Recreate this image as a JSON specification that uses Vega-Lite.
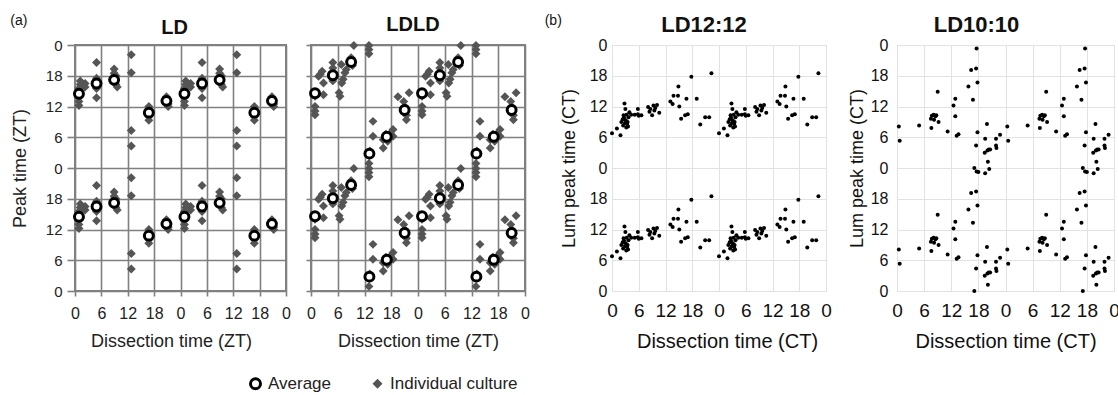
{
"$schema": "https://vega.github.io/schema/vega-lite/v6.json",
"padding": {"left": 10, "top": 13, "right": 0, "bottom": 0},
"background": "white",
"config": {
  "font": "Liberation Sans",
  "view": {"stroke": null},
  "title": {"fontWeight": "bold", "color": "#111", "font": "Liberation Sans"},
  "axis": {"labelFont": "Liberation Sans", "titleFont": "Liberation Sans", "titleFontWeight": "normal", "labelOverlap": false, "labelBound": false, "labelFlush": false},
  "legend": {"orient": "none", "legendX": 172, "legendY": 330, "direction": "horizontal", "labelFontSize": 17, "labelColor": "#222", "symbolSize": 100, "symbolStrokeWidth": 3, "columnPadding": 34, "labelOffset": 4, "title": null}
},
"datasets": {
"a1": [
{"type":"Individual culture","t":0.9,"p":12.2,"t2":24.9,"p2":36.2},
{"type":"Individual culture","t":0.9,"p":13.0,"t2":24.9,"p2":37.0},
{"type":"Individual culture","t":0.9,"p":13.8,"t2":24.9,"p2":37.8},
{"type":"Individual culture","t":0.9,"p":15.5,"t2":24.9,"p2":39.5},
{"type":"Individual culture","t":1.2,"p":16.3,"t2":25.2,"p2":40.3},
{"type":"Individual culture","t":1.2,"p":17.0,"t2":25.2,"p2":41.0},
{"type":"Individual culture","t":2.3,"p":16.5,"t2":26.3,"p2":40.5},
{"type":"Individual culture","t":2.3,"p":15.8,"t2":26.3,"p2":39.8},
{"type":"Individual culture","t":4.9,"p":20.6,"t2":28.9,"p2":44.6},
{"type":"Individual culture","t":4.9,"p":17.5,"t2":28.9,"p2":41.5},
{"type":"Individual culture","t":4.9,"p":15.5,"t2":28.9,"p2":39.5},
{"type":"Individual culture","t":4.9,"p":13.7,"t2":28.9,"p2":37.7},
{"type":"Individual culture","t":4.9,"p":16.9,"t2":28.9,"p2":40.9},
{"type":"Individual culture","t":8.9,"p":19.3,"t2":32.9,"p2":43.3},
{"type":"Individual culture","t":8.9,"p":18.5,"t2":32.9,"p2":42.5},
{"type":"Individual culture","t":9.3,"p":18.0,"t2":33.3,"p2":42.0},
{"type":"Individual culture","t":9.3,"p":16.3,"t2":33.3,"p2":40.3},
{"type":"Individual culture","t":9.6,"p":15.8,"t2":33.6,"p2":39.8},
{"type":"Individual culture","t":8.9,"p":16.8,"t2":32.9,"p2":40.8},
{"type":"Individual culture","t":12.8,"p":22.1,"t2":36.8,"p2":46.1},
{"type":"Individual culture","t":12.8,"p":18.6,"t2":36.8,"p2":42.6},
{"type":"Individual culture","t":12.8,"p":7.3,"t2":36.8,"p2":31.3},
{"type":"Individual culture","t":12.8,"p":4.3,"t2":36.8,"p2":28.3},
{"type":"Individual culture","t":16.8,"p":12.0,"t2":40.8,"p2":36.0},
{"type":"Individual culture","t":16.8,"p":11.3,"t2":40.8,"p2":35.3},
{"type":"Individual culture","t":16.8,"p":10.0,"t2":40.8,"p2":34.0},
{"type":"Individual culture","t":16.8,"p":9.3,"t2":40.8,"p2":33.3},
{"type":"Individual culture","t":20.8,"p":13.9,"t2":44.8,"p2":37.9},
{"type":"Individual culture","t":20.8,"p":13.3,"t2":44.8,"p2":37.3},
{"type":"Individual culture","t":21.2,"p":12.5,"t2":45.2,"p2":36.5},
{"type":"Individual culture","t":21.2,"p":12.0,"t2":45.2,"p2":36.0},
{"type":"Average","t":0.9,"p":14.5,"t2":24.9,"p2":38.5},
{"type":"Average","t":4.9,"p":16.5,"t2":28.9,"p2":40.5},
{"type":"Average","t":8.9,"p":17.2,"t2":32.9,"p2":41.2},
{"type":"Average","t":16.8,"p":10.8,"t2":40.8,"p2":34.8},
{"type":"Average","t":20.8,"p":13.1,"t2":44.8,"p2":37.1}
],
"a2": [
{"type":"Individual culture","t":0.9,"p":12.0,"t2":24.9,"p2":36.0},
{"type":"Individual culture","t":0.9,"p":11.1,"t2":24.9,"p2":35.1},
{"type":"Individual culture","t":0.9,"p":10.4,"t2":24.9,"p2":34.4},
{"type":"Individual culture","t":0.9,"p":14.0,"t2":24.9,"p2":38.0},
{"type":"Individual culture","t":1.7,"p":17.9,"t2":25.7,"p2":41.9},
{"type":"Individual culture","t":2.1,"p":18.3,"t2":26.1,"p2":42.3},
{"type":"Individual culture","t":2.5,"p":18.9,"t2":26.5,"p2":42.9},
{"type":"Individual culture","t":2.8,"p":16.6,"t2":26.8,"p2":40.6},
{"type":"Individual culture","t":2.8,"p":14.3,"t2":26.8,"p2":38.3},
{"type":"Individual culture","t":4.9,"p":20.6,"t2":28.9,"p2":44.6},
{"type":"Individual culture","t":4.9,"p":19.5,"t2":28.9,"p2":43.5},
{"type":"Individual culture","t":4.9,"p":17.0,"t2":28.9,"p2":41.0},
{"type":"Individual culture","t":6.3,"p":14.7,"t2":30.3,"p2":38.7},
{"type":"Individual culture","t":6.5,"p":14.0,"t2":30.5,"p2":38.0},
{"type":"Individual culture","t":6.9,"p":16.6,"t2":30.9,"p2":40.6},
{"type":"Individual culture","t":7.2,"p":17.3,"t2":31.2,"p2":41.3},
{"type":"Individual culture","t":7.6,"p":18.6,"t2":31.6,"p2":42.6},
{"type":"Individual culture","t":7.9,"p":19.2,"t2":31.9,"p2":43.2},
{"type":"Individual culture","t":6.8,"p":20.2,"t2":30.8,"p2":44.2},
{"type":"Individual culture","t":9.6,"p":23.9,"t2":33.6,"p2":47.9},
{"type":"Individual culture","t":9.0,"p":21.5,"t2":33.0,"p2":45.5},
{"type":"Individual culture","t":9.3,"p":20.0,"t2":33.3,"p2":44.0},
{"type":"Individual culture","t":13.0,"p":23.9,"t2":37.0,"p2":47.9},
{"type":"Individual culture","t":13.0,"p":23.1,"t2":37.0,"p2":47.1},
{"type":"Individual culture","t":13.0,"p":22.3,"t2":37.0,"p2":46.3},
{"type":"Individual culture","t":13.0,"p":0.9,"t2":37.0,"p2":24.9},
{"type":"Individual culture","t":13.2,"p":2.5,"t2":37.2,"p2":26.5},
{"type":"Individual culture","t":13.2,"p":3.3,"t2":37.2,"p2":27.3},
{"type":"Individual culture","t":13.9,"p":9.1,"t2":37.9,"p2":33.1},
{"type":"Individual culture","t":13.9,"p":6.2,"t2":37.9,"p2":30.2},
{"type":"Individual culture","t":16.2,"p":5.5,"t2":40.2,"p2":29.5},
{"type":"Individual culture","t":16.2,"p":3.9,"t2":40.2,"p2":27.9},
{"type":"Individual culture","t":17.2,"p":5.2,"t2":41.2,"p2":29.2},
{"type":"Individual culture","t":17.8,"p":6.8,"t2":41.8,"p2":30.8},
{"type":"Individual culture","t":18.4,"p":7.5,"t2":42.4,"p2":31.5},
{"type":"Individual culture","t":18.4,"p":6.2,"t2":42.4,"p2":30.2},
{"type":"Individual culture","t":16.8,"p":6.6,"t2":40.8,"p2":30.6},
{"type":"Individual culture","t":19.5,"p":13.9,"t2":43.5,"p2":37.9},
{"type":"Individual culture","t":22.0,"p":14.7,"t2":46.0,"p2":38.7},
{"type":"Individual culture","t":21.4,"p":9.4,"t2":45.4,"p2":33.4},
{"type":"Individual culture","t":21.0,"p":12.0,"t2":45.0,"p2":36.0},
{"type":"Individual culture","t":21.4,"p":10.3,"t2":45.4,"p2":34.3},
{"type":"Individual culture","t":20.8,"p":13.0,"t2":44.8,"p2":37.0},
{"type":"Average","t":0.9,"p":14.6,"t2":24.9,"p2":38.6},
{"type":"Average","t":4.9,"p":18.1,"t2":28.9,"p2":42.1},
{"type":"Average","t":9.0,"p":20.7,"t2":33.0,"p2":44.7},
{"type":"Average","t":13.1,"p":2.8,"t2":37.1,"p2":26.8},
{"type":"Average","t":17.0,"p":6.1,"t2":41.0,"p2":30.1},
{"type":"Average","t":21.0,"p":11.3,"t2":45.0,"p2":35.3}
],
"b1": [
{"t":0.0,"p":6.8,"t2":24.0,"p2":30.8},
{"t":1.1,"p":7.7,"t2":25.1,"p2":31.7},
{"t":1.9,"p":6.4,"t2":25.9,"p2":30.4},
{"t":2.1,"p":9.0,"t2":26.1,"p2":33.0},
{"t":2.4,"p":9.5,"t2":26.4,"p2":33.5},
{"t":2.8,"p":12.6,"t2":26.8,"p2":36.6},
{"t":2.6,"p":10.3,"t2":26.6,"p2":34.3},
{"t":3.0,"p":11.5,"t2":27.0,"p2":35.5},
{"t":3.1,"p":9.3,"t2":27.1,"p2":33.3},
{"t":3.4,"p":8.6,"t2":27.4,"p2":32.6},
{"t":3.6,"p":8.1,"t2":27.6,"p2":32.1},
{"t":3.7,"p":9.9,"t2":27.7,"p2":33.9},
{"t":3.9,"p":10.9,"t2":27.9,"p2":34.9},
{"t":4.3,"p":10.4,"t2":28.3,"p2":34.4},
{"t":5.1,"p":10.4,"t2":29.1,"p2":34.4},
{"t":5.8,"p":11.5,"t2":29.8,"p2":35.5},
{"t":5.8,"p":10.5,"t2":29.8,"p2":34.5},
{"t":6.6,"p":10.3,"t2":30.6,"p2":34.3},
{"t":8.1,"p":11.9,"t2":32.1,"p2":35.9},
{"t":8.6,"p":11.5,"t2":32.6,"p2":35.5},
{"t":9.0,"p":10.3,"t2":33.0,"p2":34.3},
{"t":9.3,"p":12.2,"t2":33.3,"p2":36.2},
{"t":9.7,"p":11.7,"t2":33.7,"p2":35.7},
{"t":10.1,"p":12.3,"t2":34.1,"p2":36.3},
{"t":10.6,"p":10.8,"t2":34.6,"p2":34.8},
{"t":13.1,"p":13.0,"t2":37.1,"p2":37.0},
{"t":13.6,"p":12.5,"t2":37.6,"p2":36.5},
{"t":13.8,"p":14.1,"t2":37.8,"p2":38.1},
{"t":14.9,"p":15.9,"t2":38.9,"p2":39.9},
{"t":14.8,"p":14.1,"t2":38.8,"p2":38.1},
{"t":15.1,"p":12.0,"t2":39.1,"p2":36.0},
{"t":15.5,"p":9.6,"t2":39.5,"p2":33.6},
{"t":16.4,"p":10.3,"t2":40.4,"p2":34.3},
{"t":17.0,"p":10.5,"t2":41.0,"p2":34.5},
{"t":16.7,"p":13.5,"t2":40.7,"p2":37.5},
{"t":17.8,"p":17.8,"t2":41.8,"p2":41.8},
{"t":19.0,"p":13.5,"t2":43.0,"p2":37.5},
{"t":19.8,"p":8.5,"t2":43.8,"p2":32.5},
{"t":20.9,"p":9.9,"t2":44.9,"p2":33.9},
{"t":21.8,"p":9.9,"t2":45.8,"p2":33.9},
{"t":22.3,"p":18.5,"t2":46.3,"p2":42.5},
{"t":2.5,"p":8.3,"t2":26.5,"p2":32.3},
{"t":2.9,"p":8.8,"t2":26.9,"p2":32.8},
{"t":3.2,"p":7.9,"t2":27.2,"p2":31.9},
{"t":2.7,"p":9.8,"t2":26.7,"p2":33.8},
{"t":3.3,"p":10.4,"t2":27.3,"p2":34.4},
{"t":3.5,"p":9.0,"t2":27.5,"p2":33.0},
{"t":9.5,"p":11.2,"t2":33.5,"p2":35.2},
{"t":8.4,"p":11.0,"t2":32.4,"p2":35.0},
{"t":6.0,"p":10.2,"t2":30.0,"p2":34.2}
],
"b2": [
{"t":0.4,"p":8.1,"t2":24.4,"p2":32.1},
{"t":0.6,"p":5.3,"t2":24.6,"p2":29.3},
{"t":4.9,"p":8.3,"t2":28.9,"p2":32.3},
{"t":7.6,"p":7.8,"t2":31.6,"p2":31.8},
{"t":7.5,"p":9.6,"t2":31.5,"p2":33.6},
{"t":7.7,"p":10.2,"t2":31.7,"p2":34.2},
{"t":8.1,"p":10.4,"t2":32.1,"p2":34.4},
{"t":8.5,"p":10.1,"t2":32.5,"p2":34.1},
{"t":8.7,"p":10.3,"t2":32.7,"p2":34.3},
{"t":8.2,"p":9.4,"t2":32.2,"p2":33.4},
{"t":9.2,"p":9.0,"t2":33.2,"p2":33.0},
{"t":9.0,"p":14.9,"t2":33.0,"p2":38.9},
{"t":11.2,"p":7.1,"t2":35.2,"p2":31.1},
{"t":12.5,"p":12.2,"t2":36.5,"p2":36.2},
{"t":12.9,"p":13.5,"t2":36.9,"p2":37.5},
{"t":12.9,"p":10.1,"t2":36.9,"p2":34.1},
{"t":13.2,"p":6.3,"t2":37.2,"p2":30.3},
{"t":13.6,"p":6.6,"t2":37.6,"p2":30.6},
{"t":15.8,"p":15.9,"t2":39.8,"p2":39.9},
{"t":16.4,"p":19.1,"t2":40.4,"p2":43.1},
{"t":17.5,"p":19.4,"t2":41.5,"p2":43.4},
{"t":16.8,"p":13.3,"t2":40.8,"p2":37.3},
{"t":17.8,"p":16.7,"t2":41.8,"p2":40.7},
{"t":17.6,"p":23.3,"t2":41.6,"p2":47.3},
{"t":18.0,"p":-0.8,"t2":42.0,"p2":23.2},
{"t":19.5,"p":-1.0,"t2":43.5,"p2":23.0},
{"t":20.4,"p":-0.2,"t2":44.4,"p2":23.8},
{"t":17.1,"p":0.0,"t2":41.1,"p2":24.0},
{"t":20.1,"p":1.2,"t2":44.1,"p2":25.2},
{"t":17.8,"p":7.0,"t2":41.8,"p2":31.0},
{"t":17.5,"p":4.4,"t2":41.5,"p2":28.4},
{"t":19.9,"p":8.6,"t2":43.9,"p2":32.6},
{"t":19.5,"p":5.7,"t2":43.5,"p2":29.7},
{"t":19.4,"p":3.0,"t2":43.4,"p2":27.0},
{"t":20.3,"p":3.6,"t2":44.3,"p2":27.6},
{"t":20.6,"p":3.6,"t2":44.6,"p2":27.6},
{"t":20.0,"p":3.4,"t2":44.0,"p2":27.4},
{"t":21.9,"p":5.7,"t2":45.9,"p2":29.7},
{"t":21.9,"p":4.4,"t2":45.9,"p2":28.4},
{"t":22.0,"p":3.9,"t2":46.0,"p2":27.9},
{"t":22.8,"p":6.5,"t2":46.8,"p2":30.5}
]
},
"spacing": 13,
"hconcat": [
{
  "title": {"text": "(a)", "anchor": "start", "fontSize": 14, "fontWeight": "normal", "dy": 18},
  "spacing": 11,
  "hconcat": [
  {
    "width": 211, "height": 246,
    "title": {"text": "LD", "fontSize": 20, "dx": -6, "dy": 4},
    "view": {"stroke": "#808080", "strokeWidth": 2},
    "data": {"name": "a1"},
    "transform": [{"fold": ["t", "t2"], "as": ["kx", "x"]}, {"fold": ["p", "p2"], "as": ["ky", "y"]}],
    "mark": {"type": "point", "filled": true, "size": 80, "strokeWidth": 3, "opacity": 1},
    "encoding": {
      "x": {"field": "x", "type": "quantitative", "scale": {"domain": [0, 48], "nice": false},
        "axis": {"values": [0,6,12,18,24,30,36,42,48], "labelExpr": "datum.value % 24", "title": "Dissection time (ZT)", "titleX": 96, "grid": true, "gridColor": "#808080", "gridWidth": 1.6, "domain": false, "tickColor": "#808080", "tickWidth": 1.6, "tickSize": 5, "labelFontSize": 16, "labelColor": "#222", "labelPadding": 9, "titleFontSize": 18, "titleColor": "#222", "titlePadding": 11}},
      "y": {"field": "y", "type": "quantitative", "scale": {"domain": [0, 48], "nice": false},
        "axis": {"values": [0,6,12,18,24,30,36,42,48], "labelExpr": "datum.value % 24", "title": "Peak time (ZT)", "grid": true, "gridColor": "#808080", "gridWidth": 1.6, "domain": false, "tickColor": "#808080", "tickWidth": 1.6, "tickSize": 8, "labelFontSize": 15, "labelColor": "#222", "labelPadding": 5, "titleFontSize": 18, "titleColor": "#222", "titlePadding": 16}},
      "shape": {"field": "type", "type": "nominal", "scale": {"domain": ["Average", "Individual culture"], "range": ["circle", "diamond"]}},
      "fill": {"field": "type", "type": "nominal", "scale": {"domain": ["Average", "Individual culture"], "range": ["white", "#555555"]}},
      "stroke": {"field": "type", "type": "nominal", "scale": {"domain": ["Average", "Individual culture"], "range": ["black", "transparent"]}}
    }
  },
  {
    "width": 214, "height": 246,
    "title": {"text": "LDLD", "fontSize": 20, "dx": -5, "dy": 4},
    "view": {"stroke": "#808080", "strokeWidth": 2},
    "data": {"name": "a2"},
    "transform": [{"fold": ["t", "t2"], "as": ["kx", "x"]}, {"fold": ["p", "p2"], "as": ["ky", "y"]}],
    "mark": {"type": "point", "filled": true, "size": 80, "strokeWidth": 3, "opacity": 1},
    "encoding": {
      "x": {"field": "x", "type": "quantitative", "scale": {"domain": [0, 48], "nice": false},
        "axis": {"values": [0,6,12,18,24,30,36,42,48], "labelExpr": "datum.value % 24", "title": "Dissection time (ZT)", "grid": true, "gridColor": "#808080", "gridWidth": 1.6, "domain": false, "tickColor": "#808080", "tickWidth": 1.6, "tickSize": 5, "labelFontSize": 16, "labelColor": "#222", "labelPadding": 9, "titleFontSize": 18, "titleColor": "#222", "titlePadding": 11}},
      "y": {"field": "y", "type": "quantitative", "scale": {"domain": [0, 48], "nice": false},
        "axis": {"values": [0,6,12,18,24,30,36,42,48], "labels": false, "title": null, "grid": true, "gridColor": "#808080", "gridWidth": 1.6, "domain": false, "tickColor": "#808080", "tickWidth": 1.6, "tickSize": 5}},
      "shape": {"field": "type", "type": "nominal", "scale": {"domain": ["Average", "Individual culture"], "range": ["circle", "diamond"]}},
      "fill": {"field": "type", "type": "nominal", "scale": {"domain": ["Average", "Individual culture"], "range": ["white", "#555555"]}},
      "stroke": {"field": "type", "type": "nominal", "scale": {"domain": ["Average", "Individual culture"], "range": ["black", "transparent"]}}
    }
  }
  ]
},
{
  "title": {"text": "(b)", "anchor": "start", "fontSize": 14, "fontWeight": "normal", "dx": -15, "dy": 18},
  "spacing": 15,
  "hconcat": [
  {
    "width": 214, "height": 246,
    "title": {"text": "LD12:12", "fontSize": 22, "dx": -15, "dy": 4},
    "view": {"stroke": "#cccccc", "strokeWidth": 1},
    "data": {"name": "b1"},
    "transform": [{"fold": ["t", "t2"], "as": ["kx", "x"]}, {"fold": ["p", "p2"], "as": ["ky", "y"]}],
    "mark": {"type": "point", "filled": true, "size": 16, "color": "black", "opacity": 1},
    "encoding": {
      "x": {"field": "x", "type": "quantitative", "scale": {"domain": [0, 48], "nice": false},
        "axis": {"values": [0,6,12,18,24,30,36,42,48], "labelExpr": "datum.value % 24", "title": "Dissection time (CT)", "titleX": 115, "grid": true, "gridColor": "#e2e2e2", "gridWidth": 1, "domain": false, "ticks": false, "labelFontSize": 19, "labelColor": "#111", "labelPadding": 10, "titleFontSize": 20, "titleColor": "#111", "titlePadding": 11}},
      "y": {"field": "y", "type": "quantitative", "scale": {"domain": [0, 48], "nice": false},
        "axis": {"values": [0,6,12,18,24,30,36,42,48], "labelExpr": "datum.value % 24", "title": "Lum peak time (CT)", "grid": true, "gridColor": "#e2e2e2", "gridWidth": 1, "domain": false, "ticks": false, "labelFontSize": 16, "labelColor": "#111", "labelPadding": 5, "titleFontSize": 18, "titleColor": "#111", "titlePadding": 11}}
    }
  },
  {
    "width": 217, "height": 246,
    "title": {"text": "LD10:10", "fontSize": 22, "dx": -29, "dy": 4},
    "view": {"stroke": "#cccccc", "strokeWidth": 1},
    "data": {"name": "b2"},
    "transform": [{"fold": ["t", "t2"], "as": ["kx", "x"]}, {"fold": ["p", "p2"], "as": ["ky", "y"]}, {"filter": "datum.y >= 0"}],
    "mark": {"type": "point", "filled": true, "size": 16, "color": "black", "opacity": 1},
    "encoding": {
      "x": {"field": "x", "type": "quantitative", "scale": {"domain": [0, 48], "nice": false},
        "axis": {"values": [0,6,12,18,24,30,36,42,48], "labelExpr": "datum.value % 24", "title": "Dissection time (CT)", "grid": true, "gridColor": "#e2e2e2", "gridWidth": 1, "domain": false, "ticks": false, "labelFontSize": 19, "labelColor": "#111", "labelPadding": 10, "titleFontSize": 20, "titleColor": "#111", "titlePadding": 11}},
      "y": {"field": "y", "type": "quantitative", "scale": {"domain": [0, 48], "nice": false},
        "axis": {"values": [0,6,12,18,24,30,36,42,48], "labelExpr": "datum.value % 24", "title": "Lum peak time (CT)", "grid": true, "gridColor": "#e2e2e2", "gridWidth": 1, "domain": false, "ticks": false, "labelFontSize": 16, "labelColor": "#111", "labelPadding": 9, "titleFontSize": 18, "titleColor": "#111", "titlePadding": 4}}
    }
  }
  ]
}
]
}
